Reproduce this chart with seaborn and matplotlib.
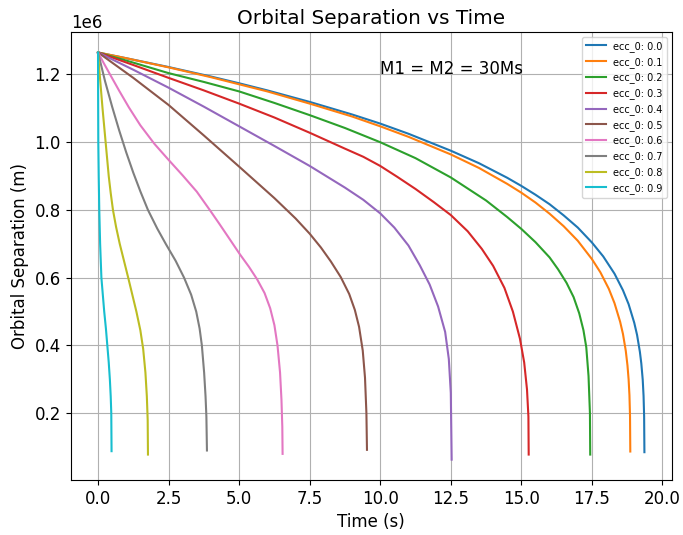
"""
Orbital separation vs time for equal-mass (30 Ms) binaries with different
initial eccentricities. Values read off the reference figure.
"""
import matplotlib
matplotlib.use("Agg")
import matplotlib.pyplot as plt
import numpy as np
import pandas as pd
import seaborn as sns

plt.rcParams["font.size"] = 12

# ---------- data (separation in units of 1e6 m) ----------
ECCS = ["0.0", "0.1", "0.2", "0.3", "0.4", "0.5", "0.6", "0.7", "0.8", "0.9"]

t_e00 = [0, 1, 2.5, 4, 5, 6, 7.5, 9, 10, 11, 12.5, 13.5, 14.5, 15, 15.5, 16, 16.5, 17,
         17.5, 17.9, 18.3, 18.6, 18.8, 19.0, 19.1, 19.2, 19.25, 19.3, 19.33, 19.35, 19.36]
a_e00 = [1.265, 1.248, 1.222, 1.194, 1.174, 1.153, 1.119, 1.082, 1.055, 1.025, 0.975, 0.938,
         0.895, 0.871, 0.845, 0.817, 0.784, 0.748, 0.704, 0.663, 0.612, 0.563, 0.522, 0.467,
         0.431, 0.381, 0.347, 0.299, 0.251, 0.191, 0.085]

t_e01 = [0, 1, 2.5, 4, 5, 6, 7.5, 9, 10, 11, 12.5, 13.5, 14.5, 15, 15.5, 16, 16.5, 17,
         17.5, 17.8, 18.1, 18.3, 18.5, 18.6, 18.7, 18.76, 18.8, 18.83, 18.85, 18.86]
a_e01 = [1.265, 1.248, 1.221, 1.192, 1.171, 1.150, 1.114, 1.076, 1.047, 1.016, 0.964, 0.924,
         0.877, 0.851, 0.822, 0.789, 0.752, 0.709, 0.655, 0.616, 0.567, 0.525, 0.470, 0.434,
         0.384, 0.341, 0.300, 0.253, 0.192, 0.087]

t_e02 = [0, 1.25, 2.5, 3.75, 5, 6.25, 7.5, 8.75, 10, 11.25, 12.5, 13.75, 14.5, 15, 15.5, 16,
         16.3, 16.6, 16.85, 17.05, 17.2, 17.3, 17.38, 17.43, 17.44]
a_e02 = [1.265, 1.235, 1.204, 1.178, 1.150, 1.116, 1.080, 1.042, 1.000, 0.953, 0.896, 0.828,
         0.779, 0.744, 0.705, 0.660, 0.625, 0.585, 0.543, 0.495, 0.445, 0.395, 0.310, 0.200,
         0.078]

t_e03 = [0, 1.25, 2.5, 3.75, 5, 6.25, 7.5, 8.75, 9.4, 10, 10.6, 11.25, 11.9, 12.5, 13.1,
         13.6, 14.0, 14.4, 14.7, 14.95, 15.1, 15.2, 15.25, 15.26]
a_e03 = [1.265, 1.228, 1.190, 1.153, 1.114, 1.073, 1.028, 0.981, 0.957, 0.930, 0.898, 0.862,
         0.823, 0.785, 0.737, 0.685, 0.635, 0.570, 0.500, 0.420, 0.350, 0.270, 0.190, 0.078]

t_e04 = [0, 1.25, 2.5, 3.75, 5, 6.25, 7.5, 8.75, 9.4, 10, 10.5, 11.0, 11.4, 11.75, 12.05,
         12.3, 12.43, 12.5, 12.53]
a_e04 = [1.265, 1.214, 1.161, 1.105, 1.047, 0.989, 0.930, 0.866, 0.830, 0.790, 0.748, 0.695,
         0.637, 0.580, 0.515, 0.440, 0.360, 0.260, 0.063]

t_e05 = [0, 1.25, 2.5, 3.75, 5, 6.25, 7.0, 7.5, 7.9, 8.25, 8.6, 8.9, 9.1, 9.25, 9.38, 9.46,
         9.51, 9.53]
a_e05 = [1.265, 1.190, 1.110, 1.020, 0.928, 0.835, 0.775, 0.730, 0.689, 0.648, 0.602, 0.552,
         0.505, 0.455, 0.385, 0.305, 0.200, 0.092]

t_e06 = [0, 0.2, 0.44, 0.75, 1.1, 1.5, 2.0, 2.5, 3.0, 3.5, 3.96, 4.3, 4.6, 5.02, 5.35, 5.64,
         5.9, 6.1, 6.25, 6.36, 6.45, 6.5, 6.53, 6.54]
a_e06 = [1.265, 1.234, 1.198, 1.152, 1.102, 1.050, 0.995, 0.948, 0.902, 0.854, 0.800, 0.759,
         0.722, 0.670, 0.632, 0.595, 0.555, 0.510, 0.460, 0.400, 0.320, 0.240, 0.160, 0.080]

t_e07 = [0, 0.25, 0.5, 0.75, 1.0, 1.25, 1.5, 1.77, 2.1, 2.4, 2.75, 3.05, 3.3, 3.48, 3.6,
         3.68, 3.76, 3.81, 3.84, 3.86]
a_e07 = [1.265, 1.180, 1.105, 1.035, 0.970, 0.910, 0.855, 0.800, 0.745, 0.700, 0.650, 0.600,
         0.550, 0.500, 0.450, 0.400, 0.320, 0.250, 0.190, 0.090]

t_e08 = [0, 0.06, 0.16, 0.27, 0.38, 0.45, 0.53, 0.64, 0.77, 1.07, 1.36, 1.5, 1.6, 1.68, 1.73,
         1.76, 1.77]
a_e08 = [1.265, 1.200, 1.100, 1.000, 0.900, 0.850, 0.800, 0.750, 0.700, 0.600, 0.500, 0.445,
         0.390, 0.320, 0.250, 0.180, 0.078]

t_e09 = [0, 0.003, 0.01, 0.025, 0.045, 0.075, 0.12, 0.17, 0.22, 0.28, 0.33, 0.38, 0.42, 0.45,
         0.47, 0.48]
a_e09 = [1.265, 1.150, 1.000, 0.900, 0.800, 0.700, 0.600, 0.550, 0.500, 0.450, 0.400, 0.350,
         0.300, 0.250, 0.200, 0.088]

TIMES = [t_e00, t_e01, t_e02, t_e03, t_e04, t_e05, t_e06, t_e07, t_e08, t_e09]
SEPS = [a_e00, a_e01, a_e02, a_e03, a_e04, a_e05, a_e06, a_e07, a_e08, a_e09]

# ---------- long-form table ----------
frames = []
for ecc, t, a in zip(ECCS, TIMES, SEPS):
    frames.append(pd.DataFrame({
        "time": t,
        "sep": np.array(a) * 1e6,
        "label": f"ecc_0: {ecc}",
    }))
df = pd.concat(frames, ignore_index=True)

# ---------- plot ----------
fig, ax = plt.subplots(figsize=(6.83, 5.35), dpi=100)
fig.subplots_adjust(left=0.1035, right=0.9835, top=0.940, bottom=0.1028)

sns.lineplot(data=df, x="time", y="sep", hue="label", palette="tab10",
             estimator=None, sort=False, linewidth=1.5, ax=ax)

handles, labels = ax.get_legend_handles_labels()
ax.legend(handles, labels, loc="upper right", fontsize=7)

ax.grid(True)
ax.set_title("Orbital Separation vs Time")
ax.set_xlabel("Time (s)")
ax.set_ylabel("Orbital Separation (m)")
ax.text(10, 1.2e6, "M1 = M2 = 30Ms")

fig.savefig("out.png", dpi=100)
plt.close(fig)
